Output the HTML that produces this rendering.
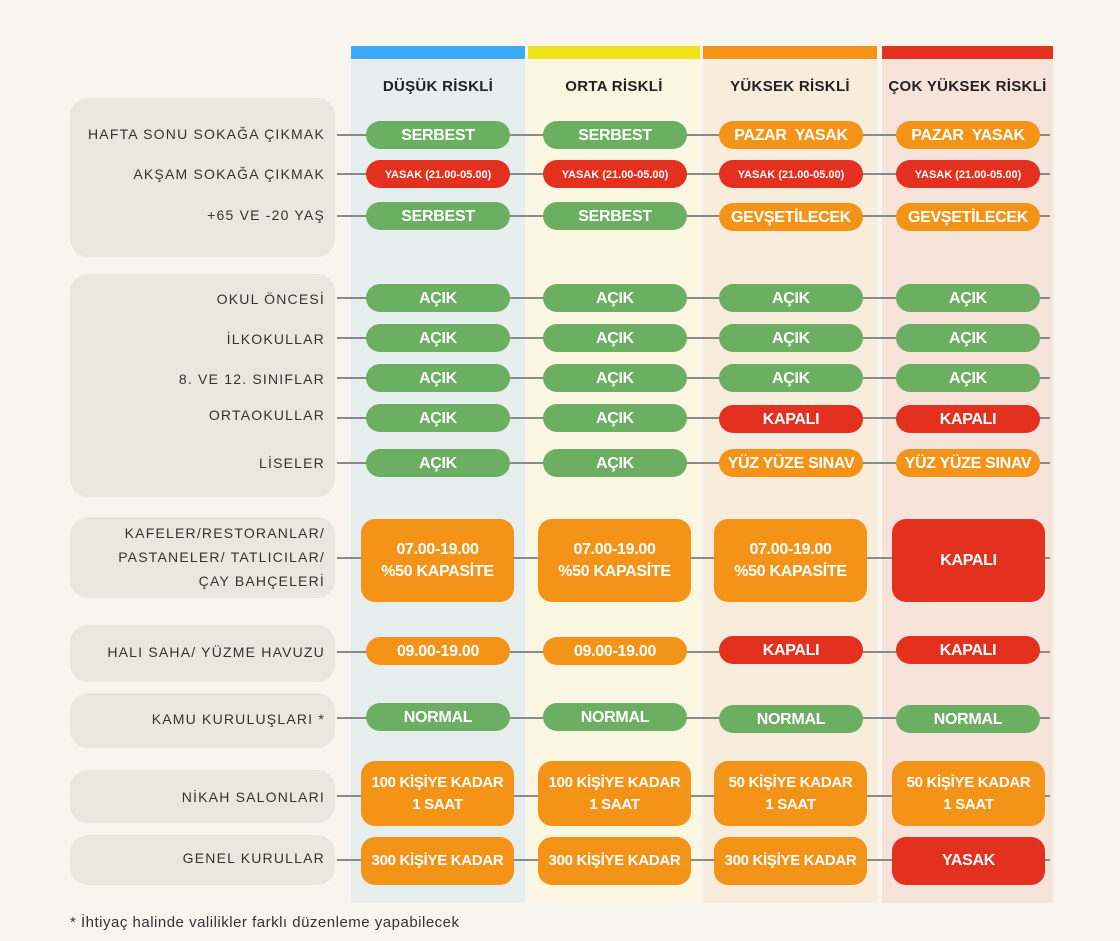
<!DOCTYPE html>
<html><head><meta charset="utf-8"><style>
*{margin:0;padding:0;box-sizing:border-box}
body{width:1120px;height:941px;background:#f8f5ee;position:relative;overflow:hidden;font-family:"Liberation Sans","DejaVu Sans",sans-serif}
div{position:absolute}
.col{top:46px;height:857px}
.bar{top:46px;height:13px}
.h{top:78px;font-weight:bold;font-size:15px;color:#222;text-align:center;letter-spacing:.3px}
.lb{left:70px;width:265px;background:#ebe7df;border-radius:18px}
.t{right:795px;font-size:14px;color:#333;letter-spacing:1.2px;text-align:right;line-height:24px;white-space:nowrap}
.ln{left:337px;width:713px;height:2px;background:#8a8a86}
.p{width:144px;height:28px;border-radius:14px;color:#fff;font-weight:bold;font-size:16px;text-align:center;line-height:30px;white-space:nowrap;letter-spacing:-.3px}
.b{width:153px;border-radius:14px;color:#fff;font-weight:bold;font-size:16px;text-align:center;display:flex;align-items:center;justify-content:center;line-height:22px;letter-spacing:-.3px}
.g{background:#6daf62}.r{background:#e3301f}.o{background:#f39419}
.s{font-size:11px;letter-spacing:0}
.c1{left:366px}.c2{left:543px}.c3{left:719px}.c4{left:896px}
.d1{left:361px}.d2{left:538px}.d3{left:714px}.d4{left:892px}
</style></head><body>
<div class="col" style="left:351px;width:174px;background:#e7eeee"></div>
<div class="col" style="left:528px;width:172px;background:#fbf6e2"></div>
<div class="col" style="left:703px;width:174px;background:#f8eddd"></div>
<div class="col" style="left:882px;width:171px;background:#f6e3da"></div>
<div class="bar" style="left:351px;width:174px;background:#3fa9f5"></div>
<div class="bar" style="left:528px;width:172px;background:#f0e31a"></div>
<div class="bar" style="left:703px;width:174px;background:#f39419"></div>
<div class="bar" style="left:882px;width:171px;background:#e3301f"></div>
<div class="h" style="left:351px;width:174px">DÜŞÜK RİSKLİ</div>
<div class="h" style="left:528px;width:172px">ORTA RİSKLİ</div>
<div class="h" style="left:703px;width:174px">YÜKSEK RİSKLİ</div>
<div class="h" style="left:882px;width:171px">ÇOK YÜKSEK RİSKLİ</div>

<div class="lb" style="top:98px;height:159px"></div>
<div class="lb" style="top:274px;height:223px"></div>
<div class="lb" style="top:517px;height:81px"></div>
<div class="lb" style="top:625px;height:57px"></div>
<div class="lb" style="top:693px;height:55px"></div>
<div class="lb" style="top:770px;height:53px"></div>
<div class="lb" style="top:835px;height:50px"></div>

<div class="ln" style="top:134px"></div><div class="ln" style="top:173px"></div><div class="ln" style="top:215px"></div>
<div class="ln" style="top:297px"></div><div class="ln" style="top:337px"></div><div class="ln" style="top:377px"></div><div class="ln" style="top:417px"></div><div class="ln" style="top:462px"></div>
<div class="ln" style="top:557px"></div><div class="ln" style="top:651px"></div><div class="ln" style="top:717px"></div><div class="ln" style="top:795px"></div><div class="ln" style="top:859px"></div>

<div class="t" style="top:122px">HAFTA SONU SOKAĞA ÇIKMAK</div>
<div class="t" style="top:162px">AKŞAM SOKAĞA ÇIKMAK</div>
<div class="t" style="top:203px">+65 VE -20 YAŞ</div>
<div class="t" style="top:287px">OKUL ÖNCESİ</div>
<div class="t" style="top:327px">İLKOKULLAR</div>
<div class="t" style="top:367px">8. VE 12. SINIFLAR</div>
<div class="t" style="top:403px">ORTAOKULLAR</div>
<div class="t" style="top:451px">LİSELER</div>
<div class="t" style="top:521px">KAFELER/RESTORANLAR/<br>PASTANELER/ TATLICILAR/<br>ÇAY BAHÇELERİ</div>
<div class="t" style="top:640px">HALI SAHA/ YÜZME HAVUZU</div>
<div class="t" style="top:707px">KAMU KURULUŞLARI *</div>
<div class="t" style="top:785px">NİKAH SALONLARI</div>
<div class="t" style="top:846px">GENEL KURULLAR</div>

<div class="p g c1" style="top:121px">SERBEST</div><div class="p g c2" style="top:121px">SERBEST</div><div class="p o c3" style="top:121px">PAZAR&nbsp; YASAK</div><div class="p o c4" style="top:121px">PAZAR&nbsp; YASAK</div>
<div class="p r s c1" style="top:160px">YASAK (21.00-05.00)</div><div class="p r s c2" style="top:160px">YASAK (21.00-05.00)</div><div class="p r s c3" style="top:160px">YASAK (21.00-05.00)</div><div class="p r s c4" style="top:160px">YASAK (21.00-05.00)</div>
<div class="p g c1" style="top:202px">SERBEST</div><div class="p g c2" style="top:202px">SERBEST</div><div class="p o c3" style="top:203px">GEVŞETİLECEK</div><div class="p o c4" style="top:203px">GEVŞETİLECEK</div>

<div class="p g c1" style="top:284px">AÇIK</div><div class="p g c2" style="top:284px">AÇIK</div><div class="p g c3" style="top:284px">AÇIK</div><div class="p g c4" style="top:284px">AÇIK</div>
<div class="p g c1" style="top:324px">AÇIK</div><div class="p g c2" style="top:324px">AÇIK</div><div class="p g c3" style="top:324px">AÇIK</div><div class="p g c4" style="top:324px">AÇIK</div>
<div class="p g c1" style="top:364px">AÇIK</div><div class="p g c2" style="top:364px">AÇIK</div><div class="p g c3" style="top:364px">AÇIK</div><div class="p g c4" style="top:364px">AÇIK</div>
<div class="p g c1" style="top:404px">AÇIK</div><div class="p g c2" style="top:404px">AÇIK</div><div class="p r c3" style="top:405px">KAPALI</div><div class="p r c4" style="top:405px">KAPALI</div>
<div class="p g c1" style="top:449px">AÇIK</div><div class="p g c2" style="top:449px">AÇIK</div><div class="p o c3" style="top:449px">YÜZ YÜZE SINAV</div><div class="p o c4" style="top:449px">YÜZ YÜZE SINAV</div>

<div class="b o d1" style="top:519px;height:83px">07.00-19.00<br>%50 KAPASİTE</div>
<div class="b o d2" style="top:519px;height:83px">07.00-19.00<br>%50 KAPASİTE</div>
<div class="b o d3" style="top:519px;height:83px">07.00-19.00<br>%50 KAPASİTE</div>
<div class="b r d4" style="top:519px;height:83px">KAPALI</div>

<div class="p o c1" style="top:637px">09.00-19.00</div><div class="p o c2" style="top:637px">09.00-19.00</div><div class="p r c3" style="top:636px">KAPALI</div><div class="p r c4" style="top:636px">KAPALI</div>
<div class="p g c1" style="top:703px">NORMAL</div><div class="p g c2" style="top:703px">NORMAL</div><div class="p g c3" style="top:705px">NORMAL</div><div class="p g c4" style="top:705px">NORMAL</div>

<div class="b o d1" style="top:761px;height:65px;font-size:15px">100 KİŞİYE KADAR<br>1 SAAT</div>
<div class="b o d2" style="top:761px;height:65px;font-size:15px">100 KİŞİYE KADAR<br>1 SAAT</div>
<div class="b o d3" style="top:761px;height:65px;font-size:15px">50 KİŞİYE KADAR<br>1 SAAT</div>
<div class="b o d4" style="top:761px;height:65px;font-size:15px">50 KİŞİYE KADAR<br>1 SAAT</div>

<div class="b o d1" style="top:837px;height:48px;font-size:15px">300 KİŞİYE KADAR</div>
<div class="b o d2" style="top:837px;height:48px;font-size:15px">300 KİŞİYE KADAR</div>
<div class="b o d3" style="top:837px;height:48px;font-size:15px">300 KİŞİYE KADAR</div>
<div class="b r d4" style="top:837px;height:48px">YASAK</div>

<div style="left:70px;top:914px;font-size:15px;color:#333;letter-spacing:.5px">* İhtiyaç halinde valilikler farklı düzenleme yapabilecek</div>
</body></html>
